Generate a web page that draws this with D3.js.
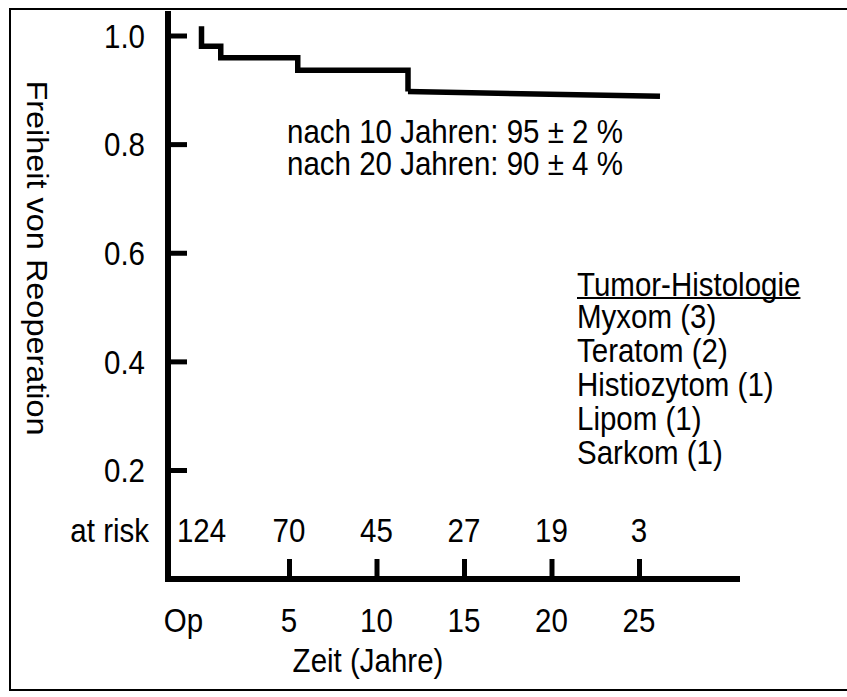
<!DOCTYPE html>
<html>
<head>
<meta charset="utf-8">
<script src="https://cdn.jsdelivr.net/npm/d3@7"></script>
<style>
  body { margin: 0; background: #fff; }
  svg text { font-family: "Liberation Sans", Arial, sans-serif; fill: #000; }
</style>
</head>
<body>
<svg id="chart" width="847" height="697"></svg>
<script>
// Kaplan-Meier: Freiheit von Reoperation
const stepYears = [0, 0, 1.1, 5.5, 11.8]
const stepValues = [1.017, 0.98, 0.959, 0.936, 0.897]
const tailYears = [11.8, 26.2]
const tailValues = [0.897, 0.888]

const yTicks = [0.2, 0.4, 0.6, 0.8, 1.0]
const xTicks = [5, 10, 15, 20, 25]
const riskYears = [0, 5, 10, 15, 20, 25]
const riskCounts = [124, 70, 45, 27, 19, 3]

const notes = ["nach 10 Jahren: 95 ± 2 %", "nach 20 Jahren: 90 ± 4 %"]
const histoTitle = "Tumor-Histologie"
const histoItems = ["Myxom (3)", "Teratom (2)", "Histiozytom (1)", "Lipom (1)", "Sarkom (1)"]

const fs = 29.5
const sy = 1.1   // glyphs in the original look a bit taller than wide
const svg = d3.select("#chart")

// put a text at (px, py), slightly stretched vertically
function label(px, py, txt, anchor) {
  return svg.append("text")
    .attr("transform", `translate(${px},${py}) scale(1,${sy})`)
    .attr("dy", "0.36em")
    .attr("text-anchor", anchor || "start")
    .attr("font-size", fs)
    .text(txt)
}

// frame
svg.append("rect")
  .attr("x", 10).attr("y", 9)
  .attr("width", 850).attr("height", 681)
  .attr("fill", "none").attr("stroke", "#000").attr("stroke-width", 2)

const x = d3.scaleLinear().domain([0, 25]).range([201.5, 639])
const y = d3.scaleLinear().domain([0.2, 1.0]).range([470, 35.5])

const axisX = 168, axisY = 579

// axis lines
svg.append("line")
  .attr("x1", axisX).attr("x2", axisX)
  .attr("y1", 11).attr("y2", axisY + 3)
  .attr("stroke", "#000").attr("stroke-width", 6)
svg.append("line")
  .attr("x1", axisX - 3).attr("x2", 740)
  .attr("y1", axisY).attr("y2", axisY)
  .attr("stroke", "#000").attr("stroke-width", 6)

// y axis ticks + labels
const yAxis = svg.append("g")
  .attr("transform", `translate(${axisX},0)`)
  .call(d3.axisLeft(y).tickValues(yTicks).tickSizeInner(-19).tickSizeOuter(0)
    .tickPadding(23).tickFormat(d3.format(".1f")))
yAxis.select(".domain").remove()
yAxis.selectAll(".tick line").attr("stroke", "#000").attr("stroke-width", 5)
yAxis.selectAll(".tick text")
  .attr("font-size", fs).attr("font-family", null).attr("fill", "#000")
  .attr("dy", "0.36em").attr("transform", `scale(1,${sy})`)

// x axis ticks (labels drawn below)
const xAxis = svg.append("g")
  .attr("transform", `translate(0,${axisY})`)
  .call(d3.axisBottom(x).tickValues(xTicks).tickSizeInner(-20).tickSizeOuter(0)
    .tickFormat(""))
xAxis.select(".domain").remove()
xAxis.selectAll(".tick line").attr("stroke", "#000").attr("stroke-width", 5)

xTicks.forEach(t => label(x(t), 620, t, "middle"))
label(x(0) - 18, 620, "Op", "middle")
label(368, 660, "Zeit (Jahre)", "middle")

svg.append("text")
  .attr("transform", `translate(38,258) scale(1,${sy}) rotate(90)`)
  .attr("dy", "0.36em")
  .attr("text-anchor", "middle").attr("font-size", fs)
  .text("Freiheit von Reoperation")

// at risk
label(149, 530, "at risk", "end")
riskCounts.forEach((n, i) => label(x(riskYears[i]), 530, n, "middle"))

// survival curve
const stepPts = stepYears.map((t, i) => [x(t), y(stepValues[i])])
svg.append("path")
  .attr("d", d3.line().curve(d3.curveStepAfter)(stepPts))
  .attr("fill", "none").attr("stroke", "#000").attr("stroke-width", 5.5)
const tailPts = tailYears.map((t, i) => [x(t), y(tailValues[i])])
svg.append("path")
  .attr("d", d3.line()(tailPts))
  .attr("fill", "none").attr("stroke", "#000").attr("stroke-width", 5.5)

// annotations
notes.forEach((d, i) => label(287, 131 + i * 32, d))

const ht = label(577, 284, histoTitle)
const hw = ht.node().getComputedTextLength()
svg.append("line")
  .attr("x1", 577).attr("x2", 577 + hw)
  .attr("y1", 298).attr("y2", 298)
  .attr("stroke", "#000").attr("stroke-width", 2)

histoItems.forEach((d, i) => label(577, 316 + i * 34, d))
</script>
</body>
</html>
